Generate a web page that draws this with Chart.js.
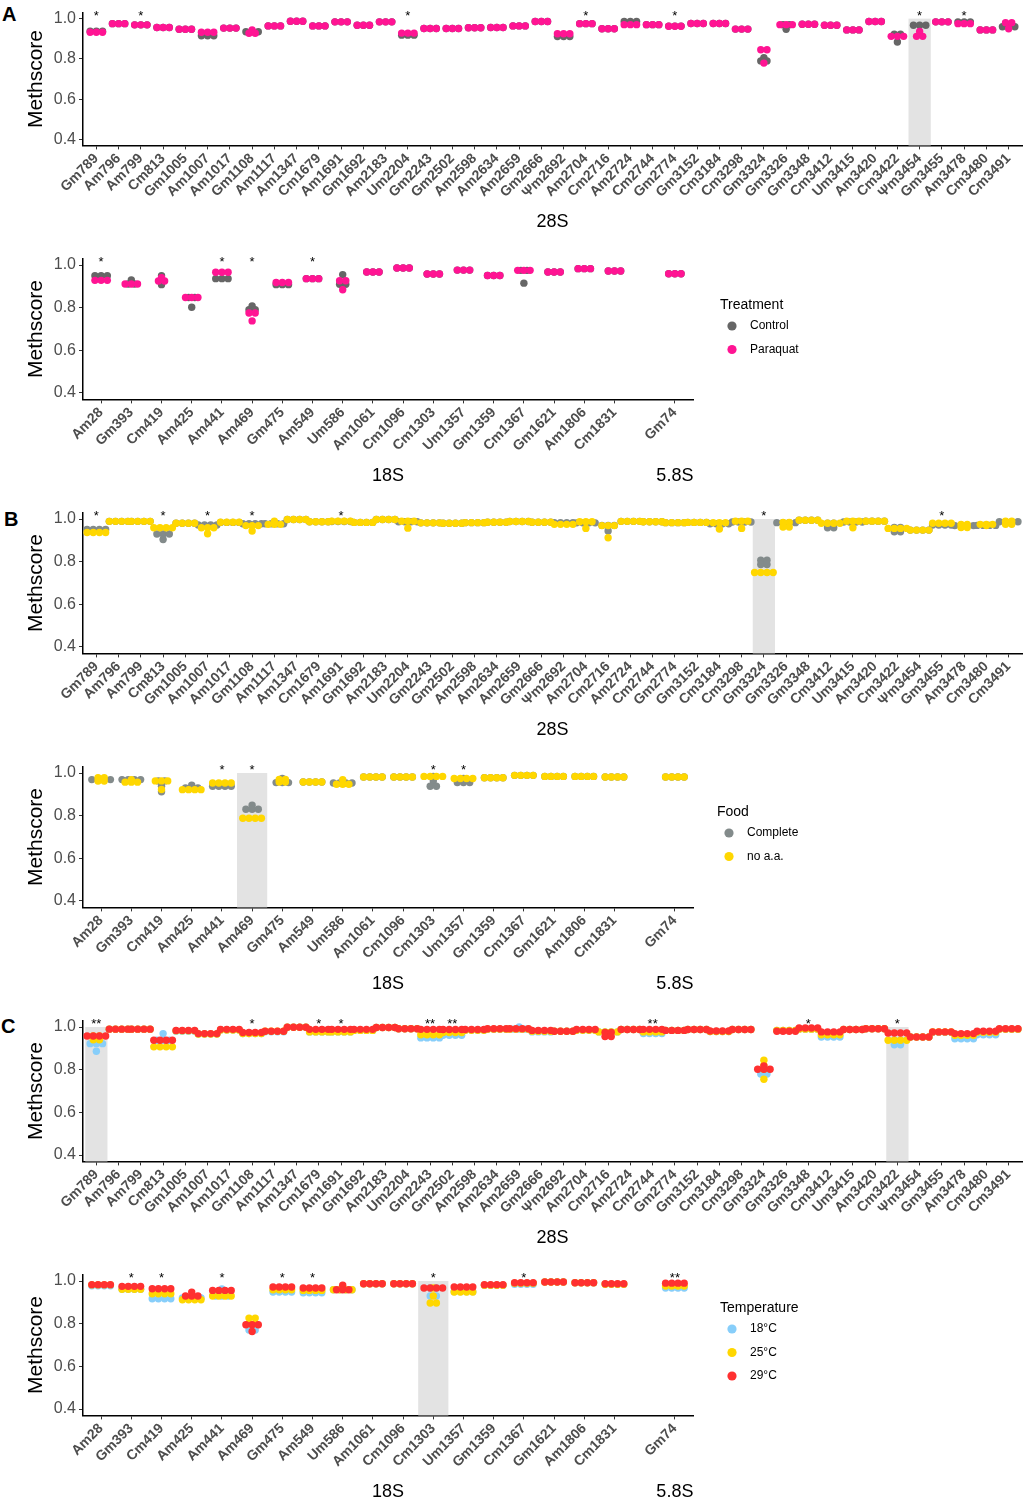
<!DOCTYPE html>
<html>
<head>
<meta charset="utf-8">
<script src="https://cdn.jsdelivr.net/npm/chart.js@4.4.1/dist/chart.umd.min.js"></script>
<style>
  body { margin: 0; background: #fff; width: 1027px; height: 1498px; position: relative; overflow: hidden; font-family: 'Liberation Sans', Arial, sans-serif; }
  canvas { position: absolute; left: 0; }
  .letter { position: absolute; font-weight: bold; font-size: 20px; line-height: 20px; color: #000; }
</style>
</head>
<body>
<div class="letter" style="left:2px;top:4px">A</div>
<div class="letter" style="left:4px;top:509px">B</div>
<div class="letter" style="left:1px;top:1016px">C</div>
<canvas id="a28"></canvas>
<canvas id="a18"></canvas>
<canvas id="b28"></canvas>
<canvas id="b18"></canvas>
<canvas id="c28"></canvas>
<canvas id="c18"></canvas>
<script>
// Categories
const cats28S = ['Gm789','Am796','Am799','Cm813','Gm1005','Am1007','Am1017','Gm1108','Am1117','Am1347',
  'Cm1679','Am1691','Gm1692','Am2183','Um2204','Gm2243','Gm2502','Am2598','Am2634','Am2659',
  'Gm2666','Ψm2692','Am2704','Cm2716','Am2724','Cm2744','Gm2774','Gm3152','Cm3184','Cm3298',
  'Gm3324','Gm3326','Gm3348','Cm3412','Um3415','Am3420','Cm3422','Ψm3454','Gm3455','Am3478',
  'Cm3480','Cm3491'];
const cats18S = ['Am28','Gm393','Cm419','Am425','Am441','Am469','Gm475','Am549','Um586','Am1061',
  'Cm1096','Cm1303','Um1357','Gm1359','Cm1367','Gm1621','Am1806','Cm1831'];
const cats58S = ['Gm74'];
const yTicks = [0.4, 0.6, 0.8, 1.0];

// Panel A - Treatment (3 replicates), 28S
const ctrlA28 = [
  [0.937,0.937,0.937],[0.975,0.975,0.975],[0.969,0.969,0.969],[0.956,0.956,0.956],[0.947,0.947,0.947],
  [0.915,0.915,0.915],[0.953,0.953,0.953],[0.935,0.935,0.935],[0.964,0.964,0.964],[0.987,0.987,0.987],
  [0.964,0.964,0.964],[0.984,0.984,0.984],[0.967,0.967,0.967],[0.984,0.984,0.984],[0.918,0.918,0.918],
  [0.951,0.951,0.951],[0.951,0.951,0.951],[0.955,0.955,0.955],[0.956,0.956,0.956],[0.964,0.964,0.964],
  [0.986,0.986,0.986],[0.911,0.911,0.911],[0.975,0.975,0.975],[0.950,0.950,0.950],[0.986,0.986,0.986],
  [0.970,0.970,0.970],[0.963,0.963,0.963],[0.976,0.976,0.976],[0.976,0.976,0.976],[0.948,0.948,0.948],
  [0.806,0.790,0.790],[0.970,0.970,0.947],[0.972,0.972,0.972],[0.967,0.967,0.967],[0.944,0.944,0.944],
  [0.986,0.986,0.986],[0.923,0.923,0.884],[0.967,0.967,0.967],[0.984,0.984,0.984],[0.984,0.984,0.984],
  [0.944,0.944,0.944],[0.960,0.960,0.960]
];
const pqA28 = [
  [0.932,0.932,0.932],[0.975,0.975,0.975],[0.969,0.969,0.969],[0.956,0.956,0.956],[0.947,0.947,0.947],
  [0.932,0.932,0.932],[0.953,0.953,0.953],[0.944,0.927,0.927],[0.964,0.964,0.964],[0.987,0.987,0.987],
  [0.964,0.964,0.964],[0.984,0.984,0.984],[0.967,0.967,0.967],[0.984,0.984,0.984],[0.928,0.928,0.928],
  [0.951,0.951,0.951],[0.951,0.951,0.951],[0.955,0.955,0.955],[0.956,0.956,0.956],[0.964,0.964,0.964],
  [0.986,0.986,0.986],[0.925,0.925,0.925],[0.975,0.975,0.975],[0.950,0.950,0.950],[0.970,0.970,0.970],
  [0.970,0.970,0.970],[0.962,0.962,0.962],[0.976,0.976,0.976],[0.976,0.976,0.976],[0.948,0.948,0.948],
  [0.845,0.845,0.779],[0.970,0.970,0.970],[0.972,0.972,0.972],[0.967,0.967,0.967],[0.944,0.944,0.944],
  [0.986,0.986,0.986],[0.912,0.912,0.912],[0.936,0.912,0.912],[0.984,0.984,0.984],[0.975,0.975,0.975],
  [0.944,0.944,0.944],[0.980,0.980,0.950]
];
// Panel A, 18S + 5.8S
const ctrlA18 = [
  [0.950,0.950,0.950],[0.930,0.911,0.911],[0.950,0.935,0.908],[0.848,0.848,0.802],[0.936,0.936,0.936],
  [0.808,0.790,0.790],[0.908,0.908,0.908],[0.936,0.936,0.936],[0.955,0.910,0.910],[0.967,0.967,0.967],
  [0.986,0.986,0.986],[0.958,0.958,0.958],[0.976,0.976,0.976],[0.951,0.951,0.951],[0.975,0.975,0.915],
  [0.967,0.967,0.967],[0.983,0.983,0.983],[0.972,0.972,0.972],[0.959,0.959,0.959]
];
const pqA18 = [
  [0.928,0.928,0.928],[0.911,0.911,0.911],[0.940,0.925,0.925],[0.848,0.848,0.848],[0.966,0.966,0.966],
  [0.775,0.775,0.738],[0.918,0.918,0.918],[0.936,0.936,0.936],[0.926,0.926,0.884],[0.967,0.967,0.967],
  [0.986,0.986,0.986],[0.958,0.958,0.958],[0.976,0.976,0.976],[0.951,0.951,0.951],[0.975,0.975,0.975],
  [0.967,0.967,0.967],[0.983,0.983,0.983],[0.972,0.972,0.972],[0.959,0.959,0.959]
];

// Panel B - Food (4 replicates), 28S
const compB28 = [
  [0.951,0.951,0.951,0.951],[0.989,0.989,0.989,0.989],[0.989,0.989,0.989,0.989],[0.930,0.930,0.930,0.904],[0.980,0.980,0.980,0.980],
  [0.972,0.972,0.972,0.972],[0.984,0.984,0.984,0.984],[0.978,0.978,0.978,0.978],[0.978,0.978,0.978,0.978],[0.998,0.998,0.998,0.998],
  [0.987,0.987,0.987,0.987],[0.988,0.988,0.988,0.988],[0.984,0.984,0.984,0.984],[0.998,0.998,0.998,0.998],[0.987,0.987,0.987,0.987],
  [0.982,0.982,0.982,0.982],[0.980,0.980,0.980,0.980],[0.983,0.983,0.983,0.983],[0.985,0.985,0.985,0.985],[0.988,0.988,0.988,0.988],
  [0.985,0.985,0.985,0.985],[0.983,0.983,0.983,0.983],[0.982,0.982,0.982,0.982],[0.970,0.970,0.970,0.944],[0.989,0.989,0.989,0.989],
  [0.987,0.987,0.987,0.987],[0.983,0.983,0.983,0.983],[0.984,0.984,0.984,0.984],[0.978,0.978,0.978,0.978],[0.986,0.986,0.986,0.986],
  [0.807,0.807,0.787,0.787],[0.983,0.983,0.983,0.983],[0.994,0.994,0.994,0.994],[0.980,0.980,0.959,0.959],[0.986,0.986,0.986,0.986],
  [0.990,0.990,0.990,0.990],[0.960,0.960,0.940,0.940],[0.948,0.948,0.948,0.948],[0.972,0.972,0.972,0.972],[0.969,0.969,0.969,0.969],
  [0.970,0.970,0.970,0.970],[0.987,0.987,0.987,0.987]
];
const noaaB28 = [
  [0.937,0.937,0.937,0.937],[0.989,0.989,0.989,0.989],[0.989,0.989,0.989,0.989],[0.959,0.959,0.959,0.959],[0.980,0.980,0.980,0.980],
  [0.959,0.959,0.959,0.931],[0.985,0.985,0.985,0.985],[0.969,0.969,0.969,0.944],[0.990,0.975,0.975,0.975],[0.998,0.998,0.998,0.998],
  [0.987,0.987,0.987,0.987],[0.990,0.990,0.990,0.990],[0.984,0.984,0.984,0.984],[0.998,0.998,0.998,0.998],[0.990,0.990,0.990,0.957],
  [0.982,0.982,0.982,0.982],[0.980,0.980,0.980,0.980],[0.983,0.983,0.983,0.983],[0.985,0.985,0.985,0.985],[0.988,0.988,0.988,0.988],
  [0.985,0.985,0.985,0.985],[0.975,0.975,0.975,0.975],[0.987,0.987,0.987,0.956],[0.969,0.969,0.969,0.912],[0.989,0.989,0.989,0.989],
  [0.987,0.987,0.987,0.987],[0.983,0.983,0.983,0.983],[0.984,0.984,0.984,0.984],[0.983,0.983,0.983,0.953],[0.990,0.990,0.990,0.956],
  [0.749,0.749,0.749,0.749],[0.984,0.984,0.962,0.962],[0.994,0.994,0.994,0.994],[0.980,0.980,0.980,0.980],[0.990,0.990,0.990,0.959],
  [0.990,0.990,0.990,0.990],[0.956,0.956,0.956,0.956],[0.948,0.948,0.948,0.948],[0.980,0.980,0.980,0.980],[0.975,0.975,0.960,0.960],
  [0.975,0.975,0.975,0.969],[0.990,0.990,0.975,0.975]
];
// Panel B, 18S + 5.8S
const compB18 = [
  [0.969,0.969,0.969,0.969],[0.969,0.969,0.969,0.969],[0.963,0.963,0.938,0.912],[0.943,0.930,0.930,0.930],[0.938,0.938,0.938,0.938],
  [0.849,0.830,0.830,0.830],[0.975,0.955,0.955,0.955],[0.958,0.958,0.958,0.958],[0.953,0.953,0.953,0.953],[0.981,0.981,0.981,0.981],
  [0.981,0.981,0.981,0.981],[0.984,0.963,0.938,0.938],[0.974,0.955,0.955,0.955],[0.978,0.978,0.978,0.978],[0.989,0.989,0.989,0.989],
  [0.984,0.984,0.984,0.984],[0.984,0.984,0.984,0.984],[0.981,0.981,0.981,0.981],[0.981,0.981,0.981,0.981]
];
const noaaB18 = [
  [0.978,0.978,0.962,0.962],[0.969,0.957,0.957,0.957],[0.963,0.963,0.963,0.923],[0.922,0.922,0.922,0.922],[0.953,0.953,0.953,0.953],
  [0.788,0.788,0.788,0.788],[0.970,0.970,0.958,0.958],[0.958,0.958,0.958,0.958],[0.969,0.947,0.947,0.947],[0.981,0.981,0.981,0.981],
  [0.981,0.981,0.981,0.981],[0.984,0.984,0.984,0.984],[0.974,0.974,0.974,0.974],[0.978,0.978,0.978,0.978],[0.989,0.989,0.989,0.989],
  [0.984,0.984,0.984,0.984],[0.984,0.984,0.984,0.984],[0.981,0.981,0.981,0.981],[0.981,0.981,0.981,0.981]
];

// Panel C - Temperature (4 replicates), 28S
const t18C28 = [
  [0.922,0.922,0.922,0.886],[0.990,0.990,0.990,0.990],[0.990,0.990,0.990,0.990],[0.969,0.938,0.938,0.938],[0.980,0.980,0.980,0.980],
  [0.967,0.967,0.967,0.967],[0.986,0.986,0.986,0.986],[0.969,0.969,0.969,0.969],[0.978,0.978,0.978,0.978],[0.999,0.999,0.999,0.999],
  [0.977,0.977,0.977,0.977],[0.977,0.977,0.977,0.977],[0.984,0.984,0.984,0.984],[0.998,0.998,0.998,0.998],[0.992,0.992,0.992,0.992],
  [0.949,0.949,0.949,0.949],[0.961,0.961,0.961,0.961],[0.985,0.985,0.985,0.985],[0.990,0.990,0.990,0.990],[1.000,0.990,0.990,0.990],
  [0.977,0.977,0.977,0.977],[0.980,0.980,0.980,0.980],[0.985,0.985,0.985,0.985],[0.977,0.977,0.977,0.977],[0.988,0.988,0.988,0.988],
  [0.969,0.969,0.969,0.969],[0.984,0.984,0.984,0.984],[0.988,0.988,0.988,0.988],[0.979,0.979,0.979,0.979],[0.988,0.988,0.988,0.988],
  [0.800,0.800,0.780,0.780],[0.984,0.984,0.984,0.984],[0.990,0.990,0.990,0.990],[0.953,0.953,0.953,0.953],[0.988,0.988,0.988,0.988],
  [0.992,0.992,0.992,0.992],[0.938,0.938,0.917,0.917],[0.953,0.953,0.953,0.953],[0.975,0.975,0.975,0.975],[0.945,0.945,0.945,0.945],
  [0.964,0.964,0.964,0.964],[0.990,0.990,0.990,0.990]
];
const t25C28 = [
  [0.958,0.958,0.940,0.940],[0.990,0.990,0.990,0.990],[0.990,0.990,0.990,0.990],[0.907,0.907,0.907,0.907],[0.982,0.982,0.982,0.982],
  [0.967,0.967,0.967,0.967],[0.986,0.986,0.986,0.986],[0.969,0.969,0.969,0.969],[0.980,0.980,0.980,0.980],[0.999,0.999,0.999,0.999],
  [0.977,0.977,0.977,0.977],[0.977,0.977,0.977,0.977],[0.984,0.984,0.984,0.984],[0.998,0.998,0.998,0.998],[0.992,0.992,0.992,0.992],
  [0.964,0.964,0.964,0.964],[0.974,0.974,0.974,0.974],[0.985,0.985,0.985,0.985],[0.990,0.990,0.990,0.990],[0.990,0.990,0.990,0.990],
  [0.980,0.980,0.980,0.980],[0.980,0.980,0.980,0.980],[0.985,0.985,0.985,0.985],[0.977,0.977,0.977,0.977],[0.988,0.988,0.988,0.988],
  [0.977,0.977,0.977,0.977],[0.984,0.984,0.984,0.984],[0.988,0.988,0.988,0.988],[0.979,0.979,0.979,0.979],[0.988,0.988,0.988,0.988],
  [0.844,0.820,0.802,0.755],[0.984,0.984,0.984,0.984],[0.990,0.990,0.990,0.990],[0.964,0.964,0.964,0.964],[0.988,0.988,0.988,0.988],
  [0.992,0.992,0.992,0.992],[0.938,0.938,0.938,0.938],[0.953,0.953,0.953,0.953],[0.977,0.977,0.977,0.977],[0.961,0.961,0.961,0.961],
  [0.975,0.975,0.975,0.975],[0.990,0.990,0.990,0.990]
];
const t29C28 = [
  [0.958,0.958,0.958,0.958],[0.990,0.990,0.990,0.990],[0.990,0.990,0.990,0.990],[0.938,0.938,0.938,0.938],[0.984,0.984,0.984,0.984],
  [0.969,0.969,0.969,0.969],[0.989,0.989,0.989,0.989],[0.974,0.974,0.974,0.974],[0.980,0.980,0.980,0.980],[0.999,0.999,0.999,0.999],
  [0.989,0.989,0.989,0.989],[0.989,0.989,0.989,0.989],[0.989,0.989,0.989,0.989],[0.998,0.998,0.998,0.998],[0.992,0.992,0.992,0.992],
  [0.989,0.989,0.989,0.989],[0.988,0.988,0.988,0.988],[0.988,0.988,0.988,0.988],[0.992,0.992,0.992,0.992],[0.992,0.992,0.992,0.992],
  [0.984,0.984,0.984,0.984],[0.980,0.980,0.980,0.980],[0.988,0.988,0.988,0.988],[0.975,0.975,0.955,0.955],[0.988,0.988,0.988,0.988],
  [0.989,0.989,0.989,0.989],[0.984,0.984,0.984,0.984],[0.988,0.988,0.988,0.988],[0.981,0.981,0.981,0.981],[0.988,0.988,0.988,0.988],
  [0.818,0.802,0.802,0.802],[0.980,0.980,0.980,0.980],[0.995,0.995,0.995,0.995],[0.977,0.977,0.977,0.977],[0.988,0.988,0.988,0.988],
  [0.992,0.992,0.992,0.992],[0.972,0.972,0.972,0.972],[0.953,0.953,0.953,0.953],[0.977,0.977,0.977,0.977],[0.969,0.969,0.969,0.969],
  [0.980,0.980,0.980,0.980],[0.992,0.992,0.992,0.992]
];
// Panel C, 18S + 5.8S
const t18C18 = [
  [0.978,0.978,0.978,0.978],[0.961,0.961,0.961,0.961],[0.917,0.917,0.917,0.917],[0.920,0.920,0.920,0.920],[0.963,0.930,0.930,0.930],
  [0.790,0.790,0.770,0.770],[0.948,0.948,0.948,0.948],[0.945,0.945,0.945,0.945],[0.959,0.959,0.959,0.959],[0.987,0.987,0.987,0.987],
  [0.987,0.987,0.987,0.987],[0.967,0.967,0.930,0.930],[0.950,0.950,0.950,0.950],[0.980,0.980,0.980,0.980],[0.985,0.985,0.985,0.985],
  [0.995,0.995,0.995,0.995],[0.992,0.992,0.992,0.992],[0.985,0.985,0.985,0.985],[0.967,0.967,0.967,0.967]
];
const t25C18 = [
  [0.982,0.982,0.982,0.982],[0.961,0.961,0.961,0.961],[0.940,0.940,0.940,0.940],[0.912,0.912,0.912,0.912],[0.930,0.930,0.930,0.930],
  [0.826,0.826,0.800,0.800],[0.959,0.959,0.959,0.959],[0.956,0.956,0.956,0.956],[0.959,0.959,0.959,0.959],[0.987,0.987,0.987,0.987],
  [0.987,0.987,0.987,0.987],[0.967,0.930,0.897,0.897],[0.948,0.948,0.948,0.948],[0.980,0.980,0.980,0.980],[0.990,0.990,0.990,0.990],
  [0.995,0.995,0.995,0.995],[0.992,0.992,0.992,0.992],[0.985,0.985,0.985,0.985],[0.976,0.976,0.976,0.976]
];
const t29C18 = [
  [0.983,0.983,0.983,0.983],[0.975,0.975,0.975,0.975],[0.964,0.964,0.964,0.964],[0.948,0.930,0.930,0.930],[0.956,0.956,0.956,0.956],
  [0.795,0.795,0.795,0.763],[0.972,0.972,0.972,0.972],[0.967,0.967,0.967,0.967],[0.980,0.959,0.959,0.959],[0.987,0.987,0.987,0.987],
  [0.987,0.987,0.987,0.987],[0.967,0.967,0.967,0.967],[0.972,0.972,0.972,0.972],[0.983,0.983,0.983,0.983],[0.992,0.992,0.992,0.992],
  [0.995,0.995,0.995,0.995],[0.992,0.992,0.992,0.992],[0.987,0.987,0.987,0.987],[0.990,0.990,0.990,0.990]
];

// Significance marks and highlighted sites
const sigA28 = [['Gm789','*'],['Am799','*'],['Um2204','*'],['Am2704','*'],['Gm2774','*'],['Ψm3454','*'],['Am3478','*']];
const sigA18 = [['Am28','*'],['Am441','*'],['Am469','*'],['Am549','*']];
const sigB28 = [['Gm789','*'],['Cm813','*'],['Am1007','*'],['Gm1108','*'],['Am1691','*'],['Gm3324','*'],['Gm3455','*']];
const sigB18 = [['Am441','*'],['Am469','*'],['Cm1303','*'],['Um1357','*']];
const sigC28 = [['Gm789','**'],['Gm1108','*'],['Cm1679','*'],['Am1691','*'],['Gm2243','**'],['Gm2502','**'],['Cm2744','**'],['Gm3348','*'],['Cm3422','*']];
const sigC18 = [['Gm393','*'],['Cm419','*'],['Am441','*'],['Gm475','*'],['Am549','*'],['Cm1303','*'],['Cm1367','*'],['Gm74','**']];
const shadeA28 = ['Ψm3454'];
const shadeA18 = [];
const shadeB28 = ['Gm3324'];
const shadeB18 = ['Am469'];
const shadeC28 = ['Gm789', 'Cm3422'];
const shadeC18 = ['Cm1303'];

Chart.defaults.font.family = "'Liberation Sans', Arial, sans-serif";

const AXIS_LEFT = 83;
const DOT_GAP = 6.2;   // px between stacked dots
const FONT = "'Liberation Sans', Arial, sans-serif";

const pos28S = cats28S.map((c, i) => i);
const posSmall = cats18S.map((c, i) => i).concat(cats58S.map((c, i) => cats18S.length + 1 + i));
const catsSmall = cats18S.concat(cats58S);

// stack replicates with the same value side by side, centred on the category
function dotPoints(values, pos, dx) {
    const pts = [];
    values.forEach((reps, i) => {
        const bins = {};
        reps.forEach(v => {
            const k = v.toFixed(3);
            (bins[k] = bins[k] || []).push(v);
        });
        Object.values(bins).forEach(b => {
            b.forEach((v, k) => pts.push({ x: pos[i] + (k - (b.length - 1) / 2) * dx, y: v }));
        });
    });
    return pts;
}

function dotChart(id, spec) {
    const el = document.getElementById(id);
    el.width = 1027;
    el.height = spec.height;
    el.style.top = spec.top + 'px';
    const padTop = spec.areaTop - spec.top;
    const axisH = spec.top + spec.height - spec.areaBottom;
    const xMin = -0.6;
    const pxPerUnit = (spec.areaRight - AXIS_LEFT) / (spec.xMax - xMin);
    const dx = DOT_GAP / pxPerUnit;

    const annotate = {
        id: 'annotate',
        beforeDatasetsDraw(chart) {
            const { ctx, chartArea, scales: { x, y } } = chart;
            ctx.save();
            ctx.fillStyle = '#E3E3E3';
            spec.shade.forEach(name => {
                const v = spec.pos[spec.cats.indexOf(name)];
                const l = x.getPixelForValue(v - 0.5);
                const r = x.getPixelForValue(v + 0.5);
                const t = y.getPixelForValue(1.0);
                ctx.fillRect(l, t, r - l, chartArea.bottom - t);
            });
            ctx.restore();
        },
        afterDraw(chart) {
            const { ctx, chartArea, scales: { x } } = chart;
            ctx.save();
            // stars
            ctx.fillStyle = '#000';
            ctx.font = '13px ' + FONT;
            ctx.textAlign = 'center';
            ctx.textBaseline = 'alphabetic';
            spec.stars.forEach(([name, mark]) => {
                const v = spec.pos[spec.cats.indexOf(name)];
                ctx.fillText(mark, x.getPixelForValue(v), chartArea.top + 7);
            });
            // rRNA section labels
            ctx.font = '18px ' + FONT;
            ctx.textBaseline = 'middle';
            spec.sections.forEach(([text, v]) => {
                ctx.fillText(text, x.getPixelForValue(v), chartArea.bottom + 77);
            });
            // legend
            if (spec.legend) {
                const lx = spec.legend.x;
                const ly = chartArea.top + spec.legend.dy;
                ctx.textAlign = 'left';
                ctx.font = '14px ' + FONT;
                ctx.fillText(spec.legend.title, lx, ly);
                ctx.font = '12px ' + FONT;
                chart.data.datasets.forEach((ds, i) => {
                    const cy = ly + 21 + i * 23.5;
                    ctx.fillStyle = ds.pointBackgroundColor;
                    ctx.beginPath();
                    ctx.arc(lx + 12, cy, 4.6, 0, Math.PI * 2);
                    ctx.fill();
                    ctx.fillStyle = '#000';
                    ctx.fillText(ds.label, lx + 30, cy);
                });
            }
            ctx.restore();
        }
    };

    return new Chart(el, {
        type: 'scatter',
        data: {
            // later groups are drawn on top of earlier ones
            datasets: spec.groups.map((g, i) => ({
                label: g.label,
                order: spec.groups.length - i,
                data: dotPoints(g.values, spec.pos, dx),
                pointBackgroundColor: g.color,
                pointBorderColor: g.color,
                pointBorderWidth: 0,
                pointRadius: 3.7,
                pointHoverRadius: 3.7,
                showLine: false
            }))
        },
        options: {
            responsive: false,
            animation: false,
            events: [],
            layout: { padding: { top: padTop, right: 1027 - spec.areaRight, bottom: 0, left: 0 } },
            plugins: {
                legend: { display: false },
                tooltip: { enabled: false }
            },
            scales: {
                x: {
                    type: 'linear',
                    min: xMin,
                    max: spec.xMax,
                    bounds: 'data',
                    afterFit: s => { s.height = axisH; },
                    afterBuildTicks: s => { s.ticks = spec.pos.map(v => ({ value: v })); },
                    grid: { drawOnChartArea: false, drawTicks: true, tickLength: 4, color: '#333' },
                    border: { display: true, color: '#000', width: 1.5 },
                    ticks: {
                        autoSkip: false,
                        minRotation: 45,
                        maxRotation: 45,
                        padding: 1,
                        color: '#4D4D4D',
                        font: { size: 14, weight: 'bold' },
                        callback: (v, i) => spec.cats[i]
                    }
                },
                y: {
                    min: 0.37,
                    max: 1.03,
                    bounds: 'data',
                    afterFit: s => { s.width = AXIS_LEFT; },
                    afterBuildTicks: s => { s.ticks = yTicks.map(v => ({ value: v })); },
                    grid: { drawOnChartArea: false, drawTicks: true, tickLength: 4, color: '#333' },
                    border: { display: true, color: '#000', width: 1.5 },
                    ticks: { padding: 3, color: '#4D4D4D', font: { size: 16 }, callback: v => v.toFixed(1) },
                    title: { display: true, text: 'Methscore', color: '#000', font: { size: 21 }, padding: { top: 24, bottom: 0 } }
                }
            }
        },
        plugins: [annotate]
    });
}

const top28 = { cats: cats28S, pos: pos28S, xMax: 41.6, areaRight: 1022, sections: [['28S', 20.5]] };
const bot18 = { cats: catsSmall, pos: posSmall, xMax: 19.6, areaRight: 693, sections: [['18S', 9.5], ['5.8S', 19]] };

dotChart('a28', Object.assign({}, top28, {
    top: 0, height: 235, areaTop: 4.6, areaBottom: 145.4,
    groups: [{ label: 'Control', color: '#666666', values: ctrlA28 }, { label: 'Paraquat', color: '#FF1493', values: pqA28 }],
    stars: sigA28, shade: shadeA28
}));
dotChart('a18', Object.assign({}, bot18, {
    top: 246, height: 238, areaTop: 258.6, areaBottom: 399.4,
    groups: [{ label: 'Control', color: '#666666', values: ctrlA18 }, { label: 'Paraquat', color: '#FF1493', values: pqA18 }],
    stars: sigA18, shade: shadeA18,
    legend: { title: 'Treatment', x: 720, dy: 46.4 }
}));
dotChart('b28', Object.assign({}, top28, {
    top: 500, height: 243, areaTop: 512.6, areaBottom: 653.4,
    groups: [{ label: 'Complete', color: '#838B8B', values: compB28 }, { label: 'no a.a.', color: '#FFD700', values: noaaB28 }],
    stars: sigB28, shade: shadeB28
}));
dotChart('b18', Object.assign({}, bot18, {
    top: 754, height: 238, areaTop: 766.6, areaBottom: 907.4,
    groups: [{ label: 'Complete', color: '#838B8B', values: compB18 }, { label: 'no a.a.', color: '#FFD700', values: noaaB18 }],
    stars: sigB18, shade: shadeB18,
    legend: { title: 'Food', x: 717, dy: 45.4 }
}));
dotChart('c28', Object.assign({}, top28, {
    top: 1008, height: 243, areaTop: 1020.6, areaBottom: 1161.4,
    groups: [{ label: '18°C', color: '#87CEFA', values: t18C28 }, { label: '25°C', color: '#FFD700', values: t25C28 }, { label: '29°C', color: '#FF3030', values: t29C28 }],
    stars: sigC28, shade: shadeC28
}));
dotChart('c18', Object.assign({}, bot18, {
    top: 1262, height: 236, areaTop: 1274.6, areaBottom: 1415.4,
    groups: [{ label: '18°C', color: '#87CEFA', values: t18C18 }, { label: '25°C', color: '#FFD700', values: t25C18 }, { label: '29°C', color: '#FF3030', values: t29C18 }],
    stars: sigC18, shade: shadeC18,
    legend: { title: 'Temperature', x: 720, dy: 33.4 }
}));
</script>
</body>
</html>
